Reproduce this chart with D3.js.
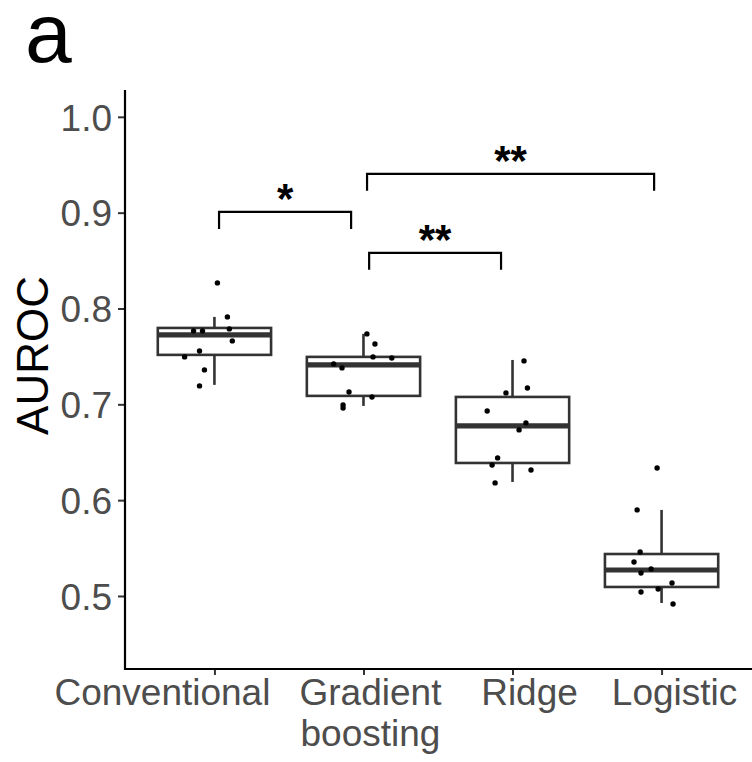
<!DOCTYPE html>
<html>
<head>
<meta charset="utf-8">
<script src="https://cdn.jsdelivr.net/npm/d3@7"></script>
<style>
  html, body { margin: 0; padding: 0; background: #fff; }
  svg { display: block; font-family: "Liberation Sans", Arial, sans-serif; }
</style>
</head>
<body>
<svg id="chart" width="752" height="762"></svg>
<script>
// ---------- data ----------
const categories = ["Conventional", "Gradient\nboosting", "Ridge", "Logistic"];
const yTicks = [0.5, 0.6, 0.7, 0.8, 0.9, 1.0];

// box statistics (lower whisker, Q1, median, Q3, upper whisker)
const whiskerLow  = [0.7203, 0.6983, 0.6190, 0.4927];
const q1          = [0.7516, 0.7088, 0.6388, 0.5094];
const median      = [0.7724, 0.7411, 0.6775, 0.5271];
const q3          = [0.7797, 0.7495, 0.7077, 0.5438];
const whiskerHigh = [0.7912, 0.7735, 0.7463, 0.5898];

// individual points (AUROC) per model
const conventionalPts = [0.8267, 0.7912, 0.7787, 0.7766, 0.7766, 0.7662, 0.7557, 0.7495, 0.7359, 0.7192];
const gradientPts     = [0.7735, 0.7630, 0.7495, 0.7484, 0.7422, 0.7380, 0.7129, 0.7077, 0.6994, 0.6962];
const ridgePts        = [0.7453, 0.7171, 0.7119, 0.6931, 0.6806, 0.6733, 0.6441, 0.6367, 0.6315, 0.6180];
const logisticPts     = [0.6336, 0.5898, 0.5459, 0.5355, 0.5282, 0.5240, 0.5136, 0.5073, 0.5042, 0.4916];
// horizontal jitter of each point as drawn (category units)
const conventionalJit = [0.02, 0.087, 0.10, -0.14, -0.08, 0.12, -0.10, -0.20, -0.067, -0.10];
const gradientJit     = [0.023, 0.077, 0.064, 0.19, -0.20, -0.144, -0.097, 0.057, -0.137, -0.137];
const ridgeJit        = [0.077, 0.10, -0.044, -0.17, 0.09, 0.044, -0.10, -0.137, 0.124, -0.117];
const logisticJit     = [-0.03, -0.164, -0.144, -0.185, -0.07, -0.138, 0.07, -0.023, -0.138, 0.077];

// significance brackets
const bracketStart = [1.031, 2.038, 2.024];
const bracketEnd   = [1.917, 2.923, 3.950];
const bracketY     = [0.9008, 0.8580, 0.9405];
const bracketTipY  = [0.8830, 0.8403, 0.9228];
const bracketLabel = ["*", "**", "**"];

// ---------- layout ----------
const W = 752, H = 762;
const mLeft = 125, mRight = 751, mTop = 90, mBottom = 669;
const svg = d3.select("#chart");

const x = d3.scaleLinear().domain([0.4, 4.6]).range([mLeft, mRight]);
const y = d3.scaleLinear().domain([0.4238, 1.028]).range([mBottom, mTop]);

const pointSets = [conventionalPts, gradientPts, ridgePts, logisticPts];
const jitterSets = [conventionalJit, gradientJit, ridgeJit, logisticJit];
const boxHalf = 0.38;
const labelShift = [-52, 7, 17, 13];

// panel label
svg.append("text").attr("x", 25).attr("y", 62)
  .attr("font-size", 84).attr("fill", "#000").text("a");

// y axis
const yAxis = d3.axisLeft(y).tickValues(yTicks).tickFormat(d3.format(".1f")).tickSize(7).tickPadding(6);
const gy = svg.append("g").attr("transform", `translate(${mLeft},0)`).call(yAxis);
gy.select(".domain").remove();
gy.selectAll(".tick line").attr("stroke", "#333").attr("stroke-width", 2);
gy.selectAll(".tick text").attr("fill", "#4D4D4D").attr("font-size", 37)
  .attr("font-family", "Liberation Sans, Arial, sans-serif").attr("dy", "0.36em");

// x axis
const xAxis = d3.axisBottom(x).tickValues([1, 2, 3, 4]).tickFormat("").tickSize(6);
const gx = svg.append("g").attr("transform", `translate(0,${mBottom})`).call(xAxis);
gx.select(".domain").remove();
gx.selectAll(".tick line").attr("stroke", "#333").attr("stroke-width", 2);

// axis lines
svg.append("line").attr("x1", mLeft).attr("x2", mLeft).attr("y1", mTop).attr("y2", mBottom + 1)
  .attr("stroke", "#000").attr("stroke-width", 2.2);
svg.append("line").attr("x1", mLeft - 1).attr("x2", W).attr("y1", mBottom).attr("y2", mBottom)
  .attr("stroke", "#000").attr("stroke-width", 2.2);

// x labels
categories.forEach((c, i) => {
  const t = svg.append("text").attr("x", x(i + 1) + labelShift[i]).attr("y", 705)
    .attr("text-anchor", "middle").attr("font-size", 37).attr("fill", "#4D4D4D");
  c.split("\n").forEach((line, k) => {
    t.append("tspan").attr("x", x(i + 1) + labelShift[i]).attr("dy", k === 0 ? 0 : 41).text(line);
  });
});

// y title
svg.append("text").attr("transform", `translate(48,${y(0.751)}) rotate(-90)`)
  .attr("text-anchor", "middle").attr("font-size", 44).attr("fill", "#000").text("AUROC");

// boxes
const boxG = svg.append("g");
categories.forEach((c, i) => {
  const cx = x(i + 1);
  boxG.append("line").attr("x1", cx).attr("x2", cx).attr("y1", y(q3[i])).attr("y2", y(whiskerHigh[i]))
    .attr("stroke", "#333").attr("stroke-width", 2.6);
  boxG.append("line").attr("x1", cx).attr("x2", cx).attr("y1", y(q1[i])).attr("y2", y(whiskerLow[i]))
    .attr("stroke", "#333").attr("stroke-width", 2.6);
  boxG.append("rect").attr("x", x(i + 1 - boxHalf)).attr("width", x(i + 1 + boxHalf) - x(i + 1 - boxHalf))
    .attr("y", y(q3[i])).attr("height", y(q1[i]) - y(q3[i]))
    .attr("fill", "#fff").attr("stroke", "#333").attr("stroke-width", 2.6);
  boxG.append("line").attr("x1", x(i + 1 - boxHalf)).attr("x2", x(i + 1 + boxHalf))
    .attr("y1", y(median[i])).attr("y2", y(median[i]))
    .attr("stroke", "#333").attr("stroke-width", 5.2);
});

// points
const ptG = svg.append("g");
pointSets.forEach((pts, i) => {
  pts.forEach((v, k) => {
    ptG.append("circle").attr("cx", x(i + 1 + jitterSets[i][k])).attr("cy", y(v))
      .attr("r", 2.7).attr("fill", "#000");
  });
});

// brackets
const brG = svg.append("g");
bracketLabel.forEach((lab, i) => {
  const x1 = x(bracketStart[i]), x2 = x(bracketEnd[i]);
  const yb = y(bracketY[i]), yt = y(bracketTipY[i]);
  brG.append("path").attr("d", `M${x1},${yt}L${x1},${yb}L${x2},${yb}L${x2},${yt}`)
    .attr("fill", "none").attr("stroke", "#000").attr("stroke-width", 2.2);
  brG.append("text").attr("x", (x1 + x2) / 2).attr("y", yb + 1)
    .attr("text-anchor", "middle").attr("font-size", 42).attr("font-weight", "bold")
    .attr("fill", "#000").text(lab);
});
</script>
</body>
</html>
